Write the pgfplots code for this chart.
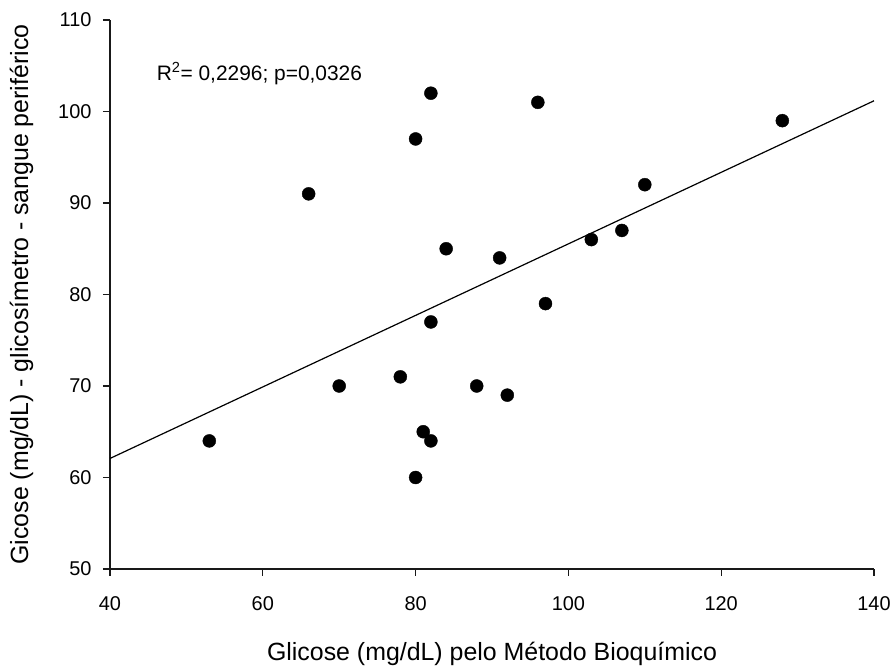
\documentclass[border=0pt]{standalone}
\usepackage{pgfplots}
\pgfplotsset{compat=1.18}
\usepackage{fontspec}
\setmainfont{Liberation Sans}
\begin{document}
\begin{tikzpicture}
\begin{axis}[
  name=ax,
  scale only axis,
  width=764bp, height=549bp,
  xmin=40, xmax=140, ymin=50, ymax=110,
  xtick={40,60,...,140}, ytick={50,60,...,110},
  axis x line=bottom, axis y line=left,
  axis line style={-, line width=1.2bp, black!90},
  tick style={line width=1.2bp, black!90},
  tick align=outside, major tick length=7bp,
  minor tick num=0,
  /pgf/number format/assume math mode=true,
  ticklabel style={font=\fontsize{20}{24}\selectfont, black},
  xticklabel style={yshift=-17bp},
  yticklabel style={xshift=-8bp},
  xlabel={Glicose (mg/dL) pelo Método Bioquímico},
  ylabel={Gicose (mg/dL) - glicosímetro - sangue periférico},
  label style={font=\fontsize{25}{30}\selectfont, black},
  xlabel style={yshift=-25bp},
  ylabel style={yshift=18bp},
  clip=false,
]
\addplot[only marks, mark=*, mark size=6.5bp, black] coordinates {
(53,64) (66,91) (70,70) (78,71) (80,97) (80,60) (81,65) (82,102) (82,77) (82,64)
(84,85) (88,70) (91,84) (92,69) (96,101) (97,79) (103,86) (107,87) (110,92) (128,99)
};
\addplot[black, line width=1.2bp] coordinates {(40,62.08) (140,101.17)};
\node[anchor=base west, font=\fontsize{21}{25}\selectfont, black, inner sep=0pt]
  at (axis cs:46.1,103.4) {R\textsuperscript{2}= 0,2296; p=0,0326};
\end{axis}
\path[use as bounding box] ([xshift=-110bp,yshift=-94bp]ax.south west) rectangle ([xshift=21bp,yshift=20bp]ax.north east);
\end{tikzpicture}
\end{document}
